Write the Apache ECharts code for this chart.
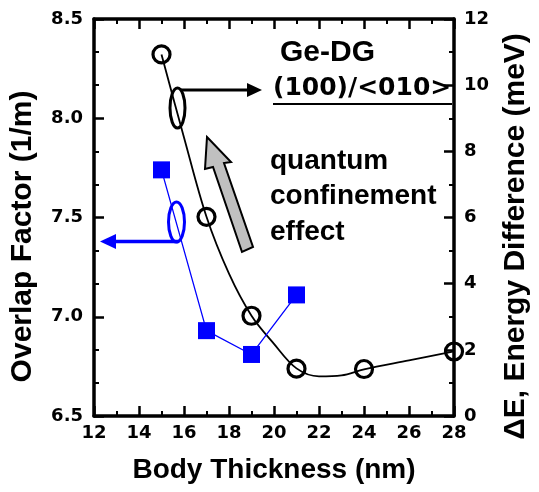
<!DOCTYPE html>
<html>
<head>
<meta charset="utf-8">
<script src="https://cdn.jsdelivr.net/npm/echarts@6/dist/echarts.min.js"></script>
<style>html,body{margin:0;padding:0;background:#fff}#c{width:539px;height:492px}</style>
</head>
<body>
<div id="c"></div>
<script>
// Overlap factor (left axis, blue squares)
var overlapX = [15, 17, 19, 21];
var overlapVal = [7.74, 6.93, 6.81, 7.11];
// Energy difference (right axis, open circles)
var energyX = [15, 17, 19, 21, 24, 28];
var energyVal = [10.93, 6.02, 3.03, 1.43, 1.42, 1.95];
// Fitted curve through energy difference
var fitX = [15, 16, 17, 18, 19, 20, 21, 22, 23, 24, 26, 28];
var fitVal = [10.93, 8.42, 6.02, 4.3, 3.03, 2.18, 1.44, 1.2, 1.23, 1.41, 1.68, 1.95];
// Axis ranges / ticks
var xRange = [12, 28, 2];
var leftRange = [6.5, 8.5, 0.5];
var rightRange = [0, 12, 2];

function zip(a, b) { return a.map(function (v, i) { return [v, b[i]]; }); }

var FONT = 'Liberation Sans';
var NUMFONT = 'DejaVu Sans';
var lbl = { fontFamily: NUMFONT, fontWeight: 'bold', fontSize: 18, color: '#000' };
var axisLine = { show: true, onZero: false, lineStyle: { color: '#000', width: 3.5 } };
var tick = { show: true, inside: true, length: 10, lineStyle: { color: '#000', width: 2.5 } };
function minor(n) { return { show: true, splitNumber: n, length: 5, lineStyle: { color: '#000', width: 2 } }; }

var chart = echarts.init(document.getElementById('c'), null, { renderer: 'canvas' });
chart.setOption({
  animation: false,
  backgroundColor: '#fff',
  grid: { left: 94, right: 80, top: 19, bottom: 76, containLabel: false },
  xAxis: [{
    type: 'value', position: 'bottom', min: xRange[0], max: xRange[1], interval: xRange[2],
    axisLine: axisLine, axisTick: tick, minorTick: minor(2), splitLine: { show: false },
    axisLabel: Object.assign({ margin: 8 }, lbl),
    name: 'Body Thickness (nm)', nameLocation: 'middle', nameGap: 40,
    nameTextStyle: { fontFamily: FONT, fontWeight: 'bold', fontSize: 28, color: '#000' }
  }, {
    type: 'value', position: 'top', min: xRange[0], max: xRange[1], interval: xRange[2],
    axisLine: axisLine, axisTick: tick, minorTick: minor(2), splitLine: { show: false },
    axisLabel: { show: false }
  }],
  yAxis: [{
    type: 'value', position: 'left', min: leftRange[0], max: leftRange[1], interval: leftRange[2],
    axisLine: axisLine, axisTick: tick, minorTick: minor(3), splitLine: { show: false },
    axisLabel: Object.assign({ margin: 11, formatter: function (v) { return v.toFixed(1); } }, lbl),
    name: 'Overlap Factor (1/m)', nameLocation: 'middle', nameGap: 56, nameRotate: 90,
    nameTextStyle: { fontFamily: FONT, fontWeight: 'bold', fontSize: 30, color: '#000', padding: [0, 38, 0, 0] }
  }, {
    type: 'value', position: 'right', min: rightRange[0], max: rightRange[1], interval: rightRange[2],
    axisLine: axisLine, axisTick: tick, minorTick: minor(2), splitLine: { show: false },
    axisLabel: Object.assign({ margin: 10 }, lbl),
    name: '\u0394E, Energy Difference (meV)', nameLocation: 'middle', nameGap: 47, nameRotate: 90,
    nameTextStyle: { fontFamily: FONT, fontWeight: 'bold', fontSize: 30, color: '#000', padding: [0, 38, 0, 0] }
  }],
  series: [{
    type: 'line', xAxisIndex: 0, yAxisIndex: 0, data: zip(overlapX, overlapVal),
    symbol: 'rect', symbolSize: 17, showSymbol: true,
    itemStyle: { color: '#0000ff', opacity: 1 }, lineStyle: { color: '#0000ff', width: 1.3 }, z: 3
  }, {
    type: 'line', xAxisIndex: 0, yAxisIndex: 1, data: zip(fitX, fitVal),
    smooth: 0.35, showSymbol: false, symbol: 'none',
    lineStyle: { color: '#000', width: 1.8 }, z: 2
  }, {
    type: 'scatter', xAxisIndex: 0, yAxisIndex: 1, data: zip(energyX, energyVal),
    symbol: 'circle', symbolSize: 17,
    itemStyle: { color: 'rgba(255,255,255,0)', borderColor: '#000', borderWidth: 3.2, opacity: 1 }, z: 4
  }],
  graphic: [
    { type: 'text', left: 280, top: 38, style: { text: 'Ge-DG', font: 'bold 30px "Liberation Sans"', fill: '#000' } },
    { type: 'text', left: 273, top: 76, style: { text: '(100)/<010>', font: 'bold 25px "DejaVu Sans"', fill: '#000' } },
    { type: 'line', shape: { x1: 273, y1: 104, x2: 452, y2: 104 }, style: { stroke: '#000', lineWidth: 2 } },
    { type: 'text', left: 270, top: 147, style: { text: 'quantum', font: 'bold 28px "Liberation Sans"', fill: '#000' } },
    { type: 'text', left: 270, top: 182, style: { text: 'confinement', font: 'bold 28px "Liberation Sans"', fill: '#000' } },
    { type: 'text', left: 270, top: 218, style: { text: 'effect', font: 'bold 28px "Liberation Sans"', fill: '#000' } },
    { type: 'polygon', shape: { points: [[207, 137], [231, 162], [224, 163], [253, 247], [242, 252], [213, 167], [205, 169]] },
      style: { fill: '#c0c0c0', stroke: '#000', lineWidth: 2 } },
    { type: 'ellipse', shape: { cx: 177.5, cy: 108, rx: 7.5, ry: 20 }, style: { fill: 'none', stroke: '#000', lineWidth: 3 } },
    { type: 'line', shape: { x1: 181, y1: 90, x2: 249, y2: 90 }, style: { stroke: '#000', lineWidth: 3 } },
    { type: 'polygon', shape: { points: [[262, 90], [247, 83], [247, 97]] }, style: { fill: '#000' } },
    { type: 'ellipse', shape: { cx: 176.5, cy: 222, rx: 8, ry: 20 }, style: { fill: 'none', stroke: '#0000ff', lineWidth: 3 } },
    { type: 'line', shape: { x1: 178, y1: 241.5, x2: 112, y2: 241.5 }, style: { stroke: '#0000ff', lineWidth: 3.5 } },
    { type: 'polygon', shape: { points: [[100, 241.5], [116, 234], [116, 249]] }, style: { fill: '#0000ff' } }
  ]
});
</script>
</body>
</html>
